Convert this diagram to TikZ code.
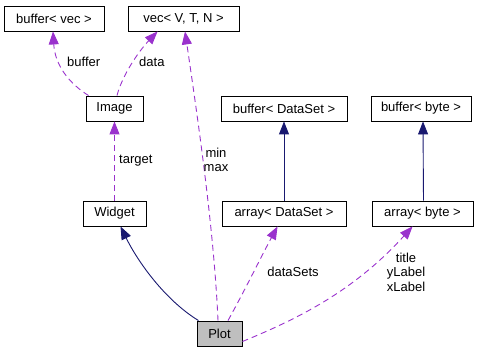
\documentclass[tikz,border=0pt]{standalone}
\usepackage{fontspec}
\setmainfont{Liberation Sans}
\usetikzlibrary{arrows.meta}
\definecolor{usecol}{HTML}{9A32CD}
\definecolor{inhcol}{HTML}{191970}
\definecolor{hilite}{HTML}{BFBFBF}
\begin{document}
\begin{tikzpicture}[x=1pt,y=-1pt,
  cls/.style={draw=black,line width=0.9pt,fill=white,minimum height=25pt,inner sep=0pt,
    font=\fontsize{13}{14.5}\selectfont},
  cur/.style={cls,fill=hilite},
  uses/.style={draw=usecol,line width=0.9pt,dash pattern=on 6pt off 4pt,
    -{Triangle[length=13pt,width=10pt,fill=usecol]}},
  inherits/.style={draw=inhcol,line width=0.9pt,
    -{Triangle[length=13pt,width=10pt,fill=inhcol]}},
  lbl/.style={inner sep=0pt,align=center,font=\fontsize{13}{14.5}\selectfont}]
\useasboundingbox (0,0) rectangle (483,352);

% classes
\node[cls,minimum width=100pt] (bvec)   at (54,18.5)    {buffer< vec >};
\node[cls,minimum width=111pt] (vec)    at (183.5,18.5) {vec< V, T, N >};
\node[cls,minimum width=57pt]  (image)  at (114.5,108.5){Image};
\node[cls,minimum width=126pt] (bds)    at (284,108.5)  {buffer< DataSet >};
\node[cls,minimum width=100pt] (bbyte)  at (421,108.5)  {buffer< byte >};
\node[cls,minimum width=63pt]  (widget) at (114.5,213.5){Widget};
\node[cls,minimum width=124pt] (ads)    at (284,213.5)  {array< DataSet >};
\node[cls,minimum width=101pt] (abyte)  at (422.5,213.5){array< byte >};
\node[cur,minimum width=45pt]  (plot)   at (219.5,333.5){Plot};

% inheritance
\draw[inherits] ([xshift=-21pt]plot.north) .. controls (165,300) and (138,262) .. ([xshift=6pt]widget.south);
\draw[inherits] (ads.north) -- (bds.south);
\draw[inherits] ([xshift=1pt]abyte.north) -- ([xshift=2pt]bbyte.south);

% usage relations
\draw[uses] ([xshift=3pt]image.north west) .. controls (70,84) and (55,66) .. ([xshift=-1pt]bvec.south);
\draw[uses] ([xshift=2.5pt]image.north) .. controls (122,76) and (138,52) .. ([xshift=30pt]vec.south west);
\draw[uses] (widget.north) -- (image.south);
\draw[uses] ([xshift=-1.5pt]plot.north) .. controls (214,230) and (198,120) .. ([xshift=1.5pt]vec.south);
\draw[uses] ([xshift=8.5pt]plot.north) .. controls (245,290) and (262,255) .. ([xshift=56pt]ads.south west);
\draw[uses] ([yshift=-8pt]plot.east) .. controls (300,318) and (355,290) .. ([xshift=41pt]abyte.south west);

% labels
\node[lbl,anchor=west] (lbuf)  at (67,62)   {buffer};
\node[lbl,anchor=west] (ldata) at (139,62)  {data};
\node[lbl,anchor=west] (ltgt)  at (119,161) {target};
\node[lbl]             (lmm)   at (216,160) {min\\max};
\node[lbl]             (lds)   at (293,272) {dataSets};
\node[lbl]             (lstr)  at (406,272) {title\\yLabel\\xLabel};
\end{tikzpicture}
\end{document}
